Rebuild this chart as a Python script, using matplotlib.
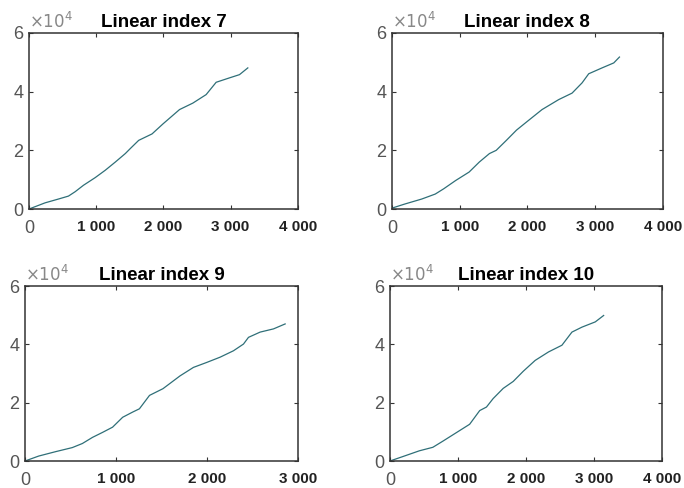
import matplotlib
matplotlib.use('Agg')
import matplotlib.pyplot as plt

plt.rcParams['font.family'] = ['Liberation Sans', 'DejaVu Sans']

titles = ['Linear index 7', 'Linear index 8', 'Linear index 9', 'Linear index 10']

# curve samples (x, y)
x7 = [0, 239, 438, 587, 687, 811, 985, 1134, 1284, 1433, 1507, 1632, 1831, 1993, 2240, 2438, 2636, 2785, 2983, 3132, 3256]
y7 = [0, 2100, 3400, 4400, 5900, 8100, 10700, 13200, 16000, 18900, 20600, 23400, 25600, 29000, 33900, 36100, 39000, 43200, 44700, 45800, 48100]

x8 = [0, 190, 440, 640, 765, 940, 1140, 1290, 1440, 1540, 1690, 1840, 1990, 2217, 2463, 2660, 2808, 2906, 3103, 3276, 3360]
y8 = [300, 1700, 3400, 5100, 6900, 9700, 12600, 16000, 18900, 20000, 23400, 26900, 29700, 33900, 37300, 39500, 43000, 46100, 48100, 49800, 51800]

x9 = [0, 151, 336, 520, 631, 742, 852, 963, 1074, 1185, 1258, 1369, 1517, 1705, 1852, 1998, 2145, 2292, 2402, 2457, 2585, 2732, 2860]
y9 = [0, 1700, 3200, 4600, 6000, 8100, 9800, 11600, 15000, 16800, 17900, 22500, 24800, 29200, 32100, 33800, 35600, 37800, 40100, 42400, 44200, 45300, 47000]

x10 = [0, 187, 433, 631, 778, 975, 1172, 1320, 1419, 1517, 1665, 1813, 1961, 2135, 2331, 2528, 2675, 2822, 3018, 3141]
y10 = [0, 1500, 3500, 4700, 6800, 9700, 12600, 17300, 18500, 21400, 24900, 27300, 30800, 34500, 37400, 39700, 44200, 45900, 47700, 49900]

xs = [x7, x8, x9, x10]
ys = [y7, y8, y9, y10]
xmax = [4000, 4000, 3000, 4000]

boxes = [
    [0.0424, 0.5717, 0.393, 0.3607],
    [0.573, 0.5717, 0.396, 0.3607],
    [0.0365, 0.0553, 0.399, 0.3586],
    [0.570, 0.0553, 0.398, 0.3586],
]

fig = plt.figure(figsize=(6.84, 4.88), dpi=100)

for i in range(4):
    ax = fig.add_axes(boxes[i])
    ax.plot(xs[i], ys[i], color='#2f6f78', lw=0.9)
    ax.set_xlim(0, xmax[i])
    ax.set_ylim(0, 60000)
    xt = list(range(0, xmax[i] + 1, 1000))
    ax.set_xticks(xt)
    ax.set_xticklabels(['0'] + ['%d 000' % (t // 1000) for t in xt[1:]])
    ax.set_yticks([0, 20000, 40000, 60000])
    ax.set_yticklabels(['0', '2', '4', '6'])
    ax.tick_params(direction='in', top=True, right=True, length=3, width=0.8, colors='#333333')
    ax.tick_params(axis='x', pad=8, labelsize=11)
    ax.tick_params(axis='y', pad=4, labelsize=13)
    for lab in ax.get_yticklabels():
        lab.set_color('#555555')
    for lab in ax.get_xticklabels()[1:]:
        lab.set_fontweight('bold')
        lab.set_color('#222222')
    first = ax.get_xticklabels()[0]
    first.set_color('#555555')
    first.set_fontsize(13)
    for s in ax.spines.values():
        s.set_color('#333333')
        s.set_linewidth(1.1)
    ax.set_title(titles[i], fontsize=13.5, fontweight='bold', pad=4)
    ax.text(0.0, 1.01, r'$\times10^4$', transform=ax.transAxes, color='#888888', fontsize=12, ha='left', va='bottom')

fig.savefig('out.png', dpi=100)
